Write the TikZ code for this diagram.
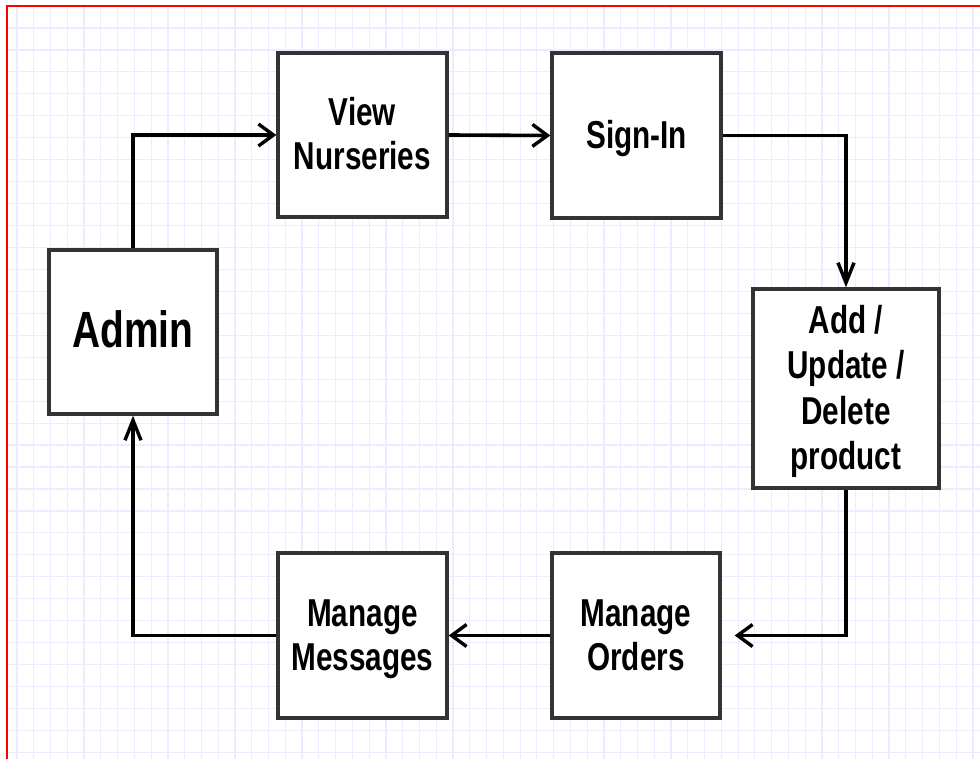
\documentclass[tikz,border=0pt]{standalone}
\usepackage{fontspec}
\setmainfont{Liberation Sans}
\usetikzlibrary{arrows.meta}
\definecolor{gridc}{RGB}{236,236,254}
\definecolor{boxc}{RGB}{51,51,51}
\newcommand{\lbl}[1]{\raisebox{-4pt}[\height][\depth]{\scalebox{1}[1.31]{\begin{tabular}{@{}c@{}}#1\end{tabular}}}}
\tikzset{
  box/.style={draw=boxc, line width=3.4pt, fill=white, rectangle, inner sep=0pt,
    minimum width=168pt, minimum height=165pt, align=center,
    font=\fontsize{29.7}{33.5}\selectfont\bfseries},
  conn/.style={draw=black, line width=3.6pt},
  harrow/.style={conn, -{Straight Barb[length=15pt, width=22pt, line width=3.4pt]}},
  varrow/.style={conn, -{Straight Barb[length=20pt, width=16pt, line width=3.4pt]}},
}
\begin{document}
\begin{tikzpicture}[x=1pt, y=-1pt]
\useasboundingbox (0,0) rectangle (980,759);
\fill[white] (0,0) rectangle (980,759);
% grid
\foreach \i in {0,...,57}
  \draw[gridc, line width=1.2pt] ({17+16.77*\i},6) -- ({17+16.77*\i},759);
\foreach \j in {0,...,33}
  \draw[gridc, line width=1.2pt] (7,{28+21.95*\j}) -- (980,{28+21.95*\j});
% red frame
\draw[red, line width=2pt] (6.5,759) -- (6.5,6.5) -- (980,6.5);
% nodes
\node[box, font=\fontsize{38.9}{44}\selectfont\bfseries, minimum height=164pt] (admin) at (133,332) {\lbl{Admin}};
\node[box, minimum width=169pt, minimum height=164pt] (view) at (362.5,135) {\lbl{View\\Nurseries}};
\node[box, minimum width=169pt] (sign) at (636.5,135.5) {\lbl{Sign-In}};
\node[box, minimum width=186pt, minimum height=199pt, font=\fontsize{29.7}{34.5}\selectfont\bfseries] (add) at (846,388.5) {\lbl{Add /\\Update /\\Delete\\product}};
\node[box] (orders) at (636,635.5) {\lbl{Manage\\Orders}};
\node[box, minimum width=169pt] (msgs) at (362.5,635.5) {\lbl{Manage\\Messages}};
% connectors
\draw[harrow] (admin.north) |- (view.west);
\draw[harrow] (view.east) -- (sign.west);
\draw[varrow] (sign.east) -| (add.north);
\draw[harrow, shorten >=13pt] (add.south) |- (orders.east);
\draw[harrow] (orders.west) -- (msgs.east);
\draw[varrow] (msgs.west) -| (admin.south);
\end{tikzpicture}
\end{document}
